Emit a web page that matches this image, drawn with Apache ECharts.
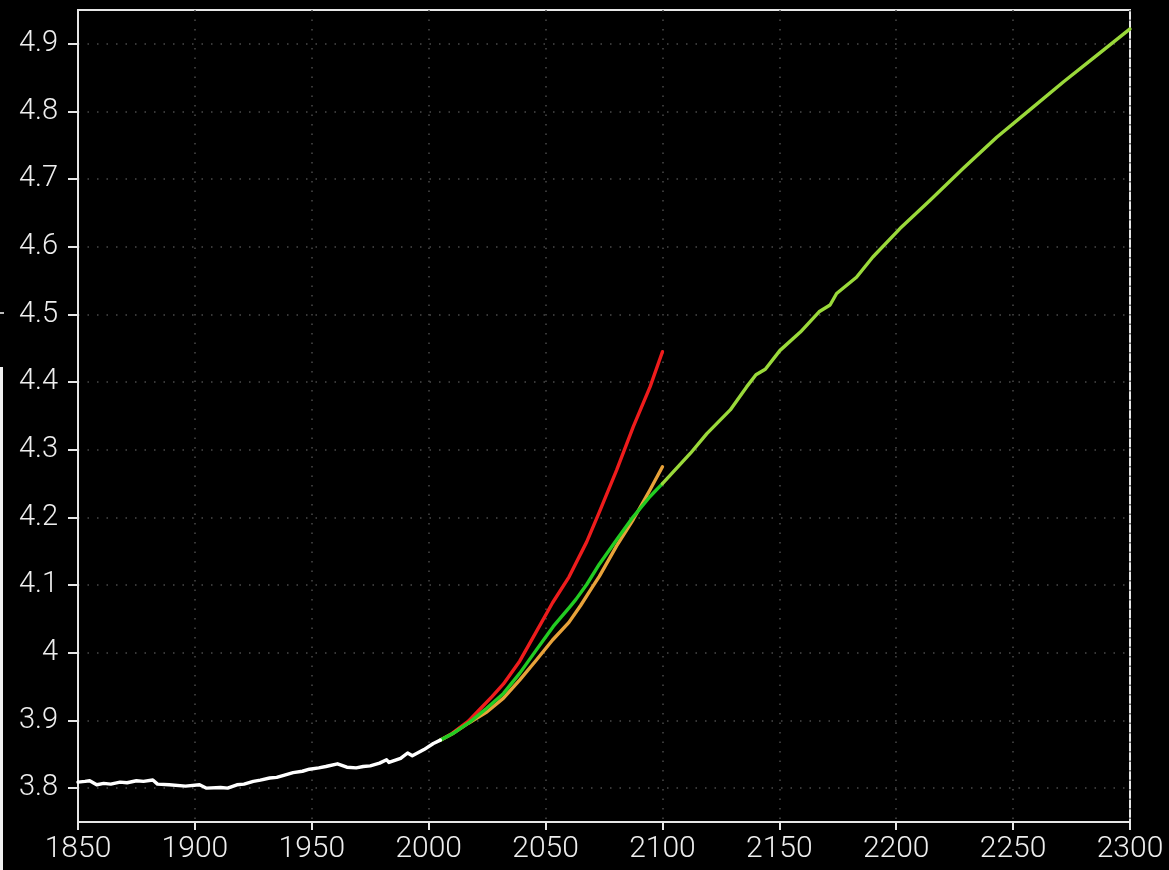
<!DOCTYPE html>
<html>
<head>
<meta charset="utf-8">
<script src="https://cdn.jsdelivr.net/npm/echarts@6/dist/echarts.min.js"></script>
<style>
  html, body { margin: 0; padding: 0; background: #000; }
  #chart { width: 1169px; height: 870px; }
</style>
</head>
<body>
<div id="chart"></div>
<script>
// Historical record (white)
const histYears  = [1850, 1853, 1855, 1858, 1861, 1864, 1868, 1871, 1875, 1878, 1882, 1884, 1889, 1896, 1902, 1905, 1911, 1914, 1918, 1921, 1925, 1928, 1932, 1935, 1938, 1942, 1946, 1949, 1953, 1956, 1961, 1965, 1969, 1972, 1975, 1979, 1982, 1983, 1988, 1991, 1993, 1998, 2002, 2005];
const histValues = [3.809, 3.810, 3.811, 3.805, 3.807, 3.806, 3.809, 3.808, 3.811, 3.810, 3.812, 3.806, 3.805, 3.803, 3.805, 3.800, 3.801, 3.800, 3.805, 3.806, 3.810, 3.812, 3.815, 3.816, 3.819, 3.823, 3.825, 3.828, 3.830, 3.832, 3.836, 3.831, 3.830, 3.832, 3.833, 3.837, 3.842, 3.838, 3.844, 3.852, 3.848, 3.857, 3.866, 3.871];

// Projection to 2100, high pathway (red)
const redYears  = [2005, 2010, 2017, 2022, 2027, 2032, 2039, 2046, 2053, 2060, 2067.6, 2073, 2080.4, 2087.5, 2094.7, 2100];
const redValues = [3.871, 3.881, 3.899, 3.917, 3.935, 3.954, 3.988, 4.031, 4.074, 4.112, 4.164, 4.208, 4.270, 4.334, 4.393, 4.445];

// Projection to 2100 (orange)
const orangeYears  = [2005, 2010, 2017, 2025, 2032, 2039, 2046, 2053, 2060, 2065, 2070, 2073, 2080.4, 2087.5, 2094.7, 2100];
const orangeValues = [3.871, 3.880, 3.896, 3.913, 3.933, 3.960, 3.989, 4.019, 4.045, 4.070, 4.097, 4.113, 4.158, 4.197, 4.241, 4.275];

// Projection to 2100 (green)
const greenYears  = [2005, 2010.5, 2017.7, 2024.8, 2032, 2039, 2046, 2053.3, 2060.4, 2063, 2067.6, 2073, 2080.4, 2087.5, 2094.7, 2100];
const greenValues = [3.871, 3.881, 3.898, 3.918, 3.940, 3.970, 4.004, 4.039, 4.068, 4.079, 4.101, 4.131, 4.167, 4.201, 4.231, 4.250];

// Extension 2100-2300 (yellow-green)
const extYears  = [2100, 2112, 2119, 2129, 2136, 2140, 2144, 2150.3, 2159, 2167, 2171.7, 2174.5, 2183, 2190, 2201.6, 2214.5, 2228.7, 2243, 2257, 2271.6, 2285.8, 2300];
const extValues = [4.250, 4.295, 4.324, 4.359, 4.393, 4.411, 4.419, 4.447, 4.474, 4.504, 4.514, 4.531, 4.555, 4.585, 4.627, 4.669, 4.716, 4.762, 4.802, 4.844, 4.883, 4.922];

// Axis ticks
const yTicks = [3.8, 3.9, 4.0, 4.1, 4.2, 4.3, 4.4, 4.5, 4.6, 4.7, 4.8, 4.9];
const xMin = 1850, xMax = 2300, xStep = 50;

const zip = (xs, ys) => xs.map((x, i) => [x, ys[i]]);

const labelFont = 'Roboto, "Liberation Sans", sans-serif';
const gridDots = { color: '#4a4a4a', width: 1.5, type: [1.5, 8] };

function lineSeries(name, xs, ys, color, z) {
  return {
    name, type: 'line', data: zip(xs, ys), showSymbol: false, smooth: false,
    z, lineStyle: { color, width: 3.4, cap: 'round', join: 'round' }, clip: true
  };
}

const chart = echarts.init(document.getElementById('chart'), null, { renderer: 'canvas' });
chart.setOption({
  backgroundColor: '#000',
  animation: false,
  grid: {
    left: 78, top: 10, right: 39, bottom: 48,
    show: true, borderColor: '#e6e6e6', borderWidth: 2, backgroundColor: 'transparent'
  },
  xAxis: {
    type: 'value', min: xMin, max: xMax, interval: xStep,
    axisLine: { show: true, lineStyle: { color: '#e6e6e6', width: 2 } },
    axisTick: { show: true, length: 8, lineStyle: { color: '#e6e6e6', width: 2 } },
    axisLabel: { color: '#eeeeee', fontSize: 30, fontWeight: 300, fontFamily: labelFont, margin: 12, formatter: v => String(v) },
    splitLine: { show: true, lineStyle: gridDots }
  },
  yAxis: {
    type: 'value', min: 3.75, max: 4.95,
    axisLine: { show: true, lineStyle: { color: '#e6e6e6', width: 2 } },
    axisTick: { show: true, length: 10, customValues: yTicks, lineStyle: { color: '#e6e6e6', width: 2 } },
    axisLabel: {
      color: '#eeeeee', fontSize: 29, fontWeight: 300, fontFamily: labelFont, margin: 20,
      customValues: yTicks,
      formatter: v => (Math.abs(v - 4) < 1e-9 ? '4' : (Math.round(v * 10) / 10).toFixed(1))
    },
    splitLine: { show: true, lineStyle: gridDots }
  },
  graphic: [
    { type: 'rect', left: 0, top: 367, shape: { width: 3, height: 503 }, style: { fill: '#f0f0f0' }, silent: true },
    { type: 'rect', left: 0, top: 312, shape: { width: 4, height: 2 }, style: { fill: '#bbbbbb' }, silent: true }
  ],
  series: [
    lineSeries('orange', orangeYears, orangeValues, '#e8a23a', 3),
    lineSeries('red', redYears, redValues, '#ee1c1c', 2),
    lineSeries('green', greenYears, greenValues, '#22cc22', 4),
    lineSeries('extension', extYears, extValues, '#9ad93a', 4),
    lineSeries('historical', histYears, histValues, '#ffffff', 5)
  ]
});
</script>
</body>
</html>
